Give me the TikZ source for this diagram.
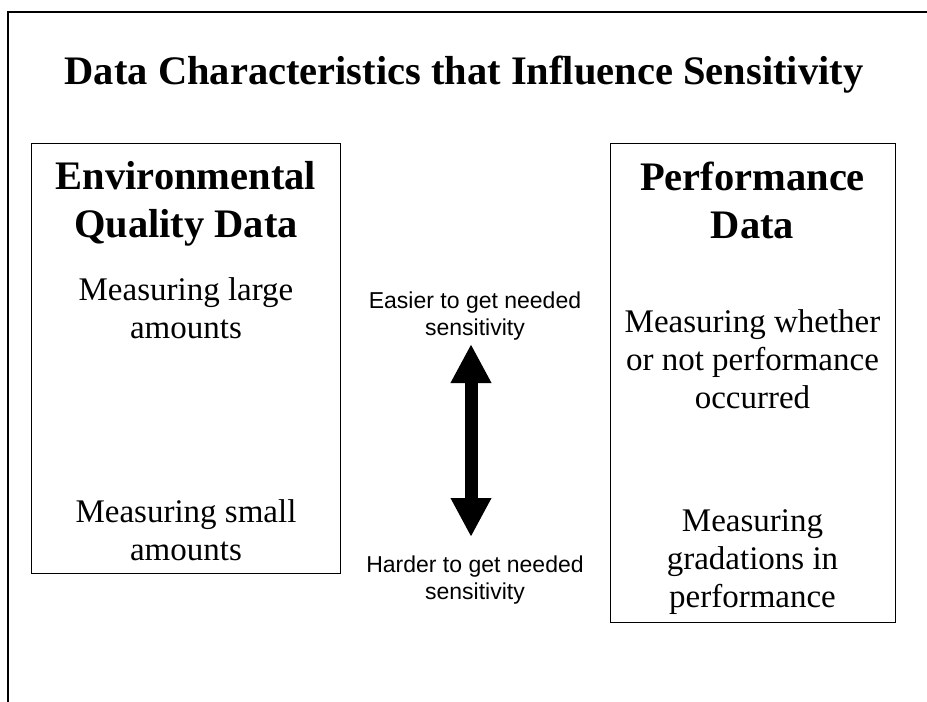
\documentclass[tikz,border=0pt]{standalone}
\usepackage{fontspec}
\setmainfont{Liberation Serif}
\setsansfont{Liberation Sans}
\usetikzlibrary{arrows.meta}

\begin{document}
\begin{tikzpicture}[
    x=1bp, y=-1bp,
    panel/.style={draw, line width=1bp, inner sep=0pt},
    head/.style={font=\fontsize{40.5bp}{47.5bp}\selectfont\bfseries,
                 align=center, anchor=base, inner sep=0pt},
    item/.style={font=\fontsize{33bp}{38bp}\selectfont,
                 align=center, anchor=base, inner sep=0pt},
    hint/.style={font=\sffamily\fontsize{23bp}{27bp}\selectfont,
                 align=center, anchor=base, inner sep=0pt},
    bigarrow/.style={{Triangle[width=38bp,length=39bp]}-{Triangle[width=38bp,length=39bp]},
                     line width=13bp},
  ]
  \useasboundingbox (0,0) rectangle (927,702);

  % slide frame (cut off at right and bottom)
  \draw[line width=1.5bp] (8,702) -- (8,12) -- (927,12);

  % title
  \node[head] (title) at (464,85)
    {Data Characteristics that Influence Sensitivity};

  % left panel (base anchor = last line)
  \node[panel, minimum width=308bp, minimum height=429bp] (envbox) at (186,358.5) {};
  \node[head] (envhead) at (186,237) {Environmental\\Quality Data};
  \node[item] (envlarge) at (186,338) {Measuring large\\amounts};
  \node[item] (envsmall) at (186,560) {Measuring small\\amounts};

  % right panel
  \node[panel, minimum width=285bp, minimum height=478bp] (perfbox) at (752.5,383) {};
  \node[head] (perfhead) at (752.5,238) {Performance\\Data};
  \node[item] (perfyes) at (752.5,408) {Measuring whether\\or not performance\\occurred};
  \node[item] (perfgrad) at (752.5,607) {Measuring\\gradations in\\performance};

  % middle scale
  \node[hint] (easy) at (475,335) {Easier to get needed\\sensitivity};
  \node[hint] (hard) at (475,599) {Harder to get needed\\sensitivity};
  \coordinate (uptip) at (471,344);
  \coordinate (downtip) at (471,537);
  \draw[bigarrow] (uptip) -- (downtip);
\end{tikzpicture}
\end{document}
